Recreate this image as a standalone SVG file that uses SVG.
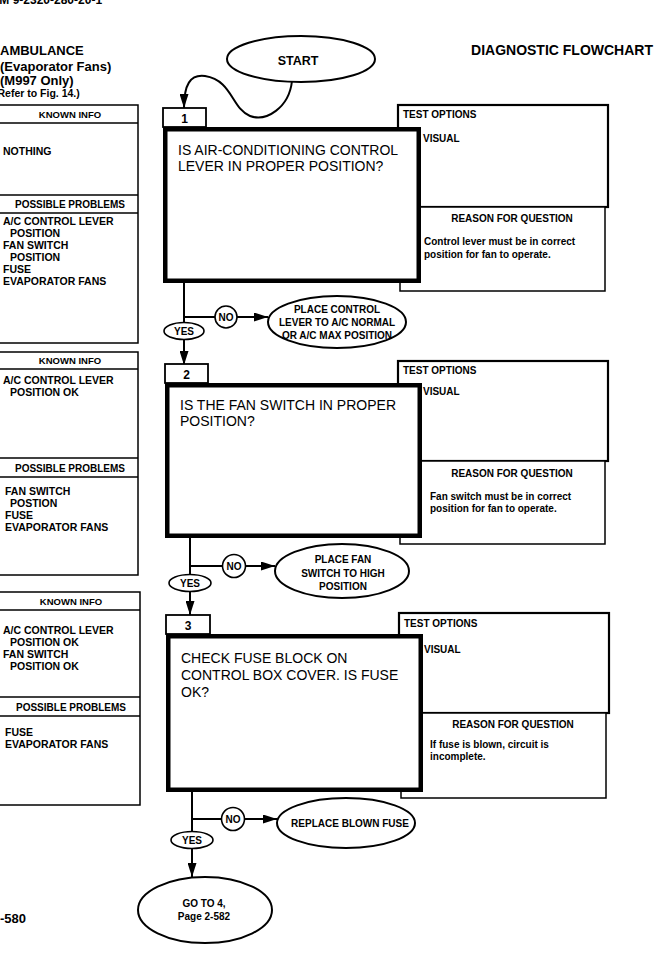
<svg xmlns="http://www.w3.org/2000/svg" width="660" height="974" viewBox="0 0 660 974">
<style>
text{font-family:"Liberation Sans",Arial,sans-serif;fill:#000}
.b{font-weight:bold}
.c{text-anchor:middle}
.hd{font-weight:bold;font-size:13px}
.hdr{font-weight:bold;font-size:9.5px;text-anchor:middle}
.pp{font-weight:bold;font-size:10px;text-anchor:middle}
.it{font-weight:bold;font-size:10.5px}
.q{font-size:14px}
.to{font-weight:bold;font-size:10px}
.rt{font-weight:bold;font-size:10px}
.el{font-weight:bold;font-size:10px;text-anchor:middle}
.frame{fill:#fff;stroke:#000;stroke-width:1.5}
.test{fill:#fff;stroke:#000;stroke-width:2.2}
.qbox{fill:#fff;stroke:#000;stroke-width:4.5}
.tab{fill:#fff;stroke:#000;stroke-width:1.8}
.oval{fill:#fff;stroke:#000;stroke-width:2}
.small{fill:#fff;stroke:#000;stroke-width:1.6}
.ln{fill:none;stroke:#000;stroke-width:2}
.rule{stroke:#000;stroke-width:1.5}
</style>
<defs>
<marker id="ah" viewBox="0 0 14 9" refX="14" refY="4.5" markerWidth="14" markerHeight="9" markerUnits="userSpaceOnUse" orient="auto"><path d="M0,0 L14,4.5 L0,9 z" fill="#000"/></marker>
</defs>

<g id="header">
<text x="-8" y="4" class="b" font-size="12">TM 9-2320-280-20-1</text>
<text x="0" y="55" class="hd">AMBULANCE</text>
<text x="0" y="71" class="hd">(Evaporator Fans)</text>
<text x="0" y="85" class="hd">(M997 Only)</text>
<text x="-6" y="97" class="b" font-size="10.5">(Refer to Fig. 14.)</text>
<text x="653" y="55" class="b" font-size="14" text-anchor="end">DIAGNOSTIC FLOWCHART</text>
<text x="0" y="923" class="b" font-size="13">-580</text>
</g>

<g id="info1">
<rect x="-2" y="105" width="140" height="238" class="frame"/>
<line x1="-2" y1="123" x2="138" y2="123" class="rule"/>
<line x1="-2" y1="195" x2="138" y2="195" class="rule"/>
<line x1="-2" y1="213" x2="138" y2="213" class="rule"/>
<text x="70" y="118" class="hdr">KNOWN INFO</text>
<text x="3" y="155" class="it">NOTHING</text>
<text x="70" y="208" class="pp">POSSIBLE PROBLEMS</text>
<text x="3" y="225" class="it">A/C CONTROL LEVER</text>
<text x="10" y="237" class="it">POSITION</text>
<text x="3" y="249" class="it">FAN SWITCH</text>
<text x="10" y="261" class="it">POSITION</text>
<text x="3" y="273" class="it">FUSE</text>
<text x="3" y="285" class="it">EVAPORATOR FANS</text>
</g>

<g id="info2">
<rect x="-2" y="352" width="140" height="223" class="frame"/>
<line x1="-2" y1="369" x2="138" y2="369" class="rule"/>
<line x1="-2" y1="458" x2="138" y2="458" class="rule"/>
<line x1="-2" y1="477" x2="138" y2="477" class="rule"/>
<text x="70" y="364" class="hdr">KNOWN INFO</text>
<text x="3" y="384" class="it">A/C CONTROL LEVER</text>
<text x="10" y="396" class="it">POSITION OK</text>
<text x="70" y="472" class="pp">POSSIBLE PROBLEMS</text>
<text x="5" y="495" class="it">FAN SWITCH</text>
<text x="10" y="507" class="it">POSTION</text>
<text x="5" y="519" class="it">FUSE</text>
<text x="5" y="531" class="it">EVAPORATOR FANS</text>
</g>

<g id="info3">
<rect x="-2" y="592" width="142" height="213" class="frame"/>
<line x1="-2" y1="610" x2="140" y2="610" class="rule"/>
<line x1="-2" y1="697" x2="140" y2="697" class="rule"/>
<line x1="-2" y1="716" x2="140" y2="716" class="rule"/>
<text x="71" y="605" class="hdr">KNOWN INFO</text>
<text x="3" y="634" class="it">A/C CONTROL LEVER</text>
<text x="10" y="646" class="it">POSITION OK</text>
<text x="3" y="658" class="it">FAN SWITCH</text>
<text x="10" y="670" class="it">POSITION OK</text>
<text x="71" y="711" class="pp">POSSIBLE PROBLEMS</text>
<text x="5" y="736" class="it">FUSE</text>
<text x="5" y="748" class="it">EVAPORATOR FANS</text>
</g>

<g id="connectors">
<path class="ln" d="M292 81 C289 108,266 122,250 116 C232 109,232 80,205 76 C190 74,184 85,184 108" marker-end="url(#ah)"/>
<line class="ln" x1="184" y1="283" x2="184" y2="365" marker-end="url(#ah)"/>
<line class="ln" x1="184" y1="317" x2="215" y2="317"/>
<line class="ln" x1="237" y1="317" x2="268" y2="317" marker-end="url(#ah)"/>
<line class="ln" x1="190" y1="538" x2="190" y2="615" marker-end="url(#ah)"/>
<line class="ln" x1="190" y1="566" x2="222" y2="566"/>
<line class="ln" x1="246" y1="566" x2="275" y2="566" marker-end="url(#ah)"/>
<line class="ln" x1="192" y1="792" x2="192" y2="877" marker-end="url(#ah)"/>
<line class="ln" x1="192" y1="819" x2="222" y2="819"/>
<line class="ln" x1="245" y1="819" x2="277" y2="819" marker-end="url(#ah)"/>
</g>

<g id="start">
<ellipse cx="301" cy="59" rx="74" ry="23" class="oval"/>
<text x="298" y="65" class="b c" font-size="12.5">START</text>
</g>

<g id="step1">
<rect x="398" y="105" width="210" height="102" class="test"/>
<rect x="400" y="207" width="205" height="84" class="frame"/>
<rect x="163" y="108" width="43" height="19" class="tab"/>
<text x="184.5" y="123" class="b c" font-size="12">1</text>
<rect x="165.25" y="129.25" width="253.5" height="151.5" class="qbox"/>
<text x="178" y="155" class="q">IS AIR-CONDITIONING CONTROL</text>
<text x="178" y="171" class="q">LEVER IN PROPER POSITION?</text>
<text x="403" y="118" class="to">TEST OPTIONS</text>
<text x="423" y="142" class="to">VISUAL</text>
<text x="512" y="222" class="to c">REASON FOR QUESTION</text>
<text x="424" y="245" class="rt">Control lever must be in correct</text>
<text x="424" y="258" class="rt">position for fan to operate.</text>
</g>
<g id="yes1"><ellipse cx="184" cy="331" rx="20" ry="8.5" class="small"/><text x="184" y="335" class="el">YES</text></g>
<g id="no1"><circle cx="226" cy="317" r="11" class="small"/><text x="226" y="321" class="el">NO</text></g>
<g id="fix1">
<ellipse cx="337" cy="322" rx="69" ry="26" class="oval"/>
<text x="337" y="313" class="el">PLACE CONTROL</text>
<text x="337" y="326" class="el">LEVER TO A/C NORMAL</text>
<text x="337" y="339" class="el">OR A/C MAX POSITION</text>
</g>

<g id="step2">
<rect x="398" y="361" width="210" height="100" class="test"/>
<rect x="400" y="461" width="205" height="83" class="frame"/>
<rect x="165" y="364" width="43" height="19" class="tab"/>
<text x="186.5" y="379" class="b c" font-size="12">2</text>
<rect x="167.25" y="385.25" width="252.5" height="150.5" class="qbox"/>
<text x="180" y="410" class="q">IS THE FAN SWITCH IN PROPER</text>
<text x="180" y="426" class="q">POSITION?</text>
<text x="403" y="374" class="to">TEST OPTIONS</text>
<text x="423" y="395" class="to">VISUAL</text>
<text x="512" y="477" class="to c">REASON FOR QUESTION</text>
<text x="430" y="500" class="rt">Fan switch must be in correct</text>
<text x="430" y="512" class="rt">position for fan to operate.</text>
</g>
<g id="yes2"><ellipse cx="190" cy="583" rx="21" ry="8.5" class="small"/><text x="190" y="587" class="el">YES</text></g>
<g id="no2"><circle cx="234" cy="566" r="11.5" class="small"/><text x="234" y="570" class="el">NO</text></g>
<g id="fix2">
<ellipse cx="342" cy="571" rx="67" ry="27" class="oval"/>
<text x="343" y="563" class="el">PLACE FAN</text>
<text x="343" y="577" class="el">SWITCH TO HIGH</text>
<text x="343" y="590" class="el">POSITION</text>
</g>

<g id="step3">
<rect x="399" y="613" width="210" height="100" class="test"/>
<rect x="401" y="713" width="205" height="85" class="frame"/>
<rect x="166" y="615" width="44" height="19" class="tab"/>
<text x="188" y="630" class="b c" font-size="12">3</text>
<rect x="168.25" y="636.25" width="252.5" height="153.5" class="qbox"/>
<text x="181" y="663" class="q">CHECK FUSE BLOCK ON</text>
<text x="181" y="680" class="q">CONTROL BOX COVER. IS FUSE</text>
<text x="181" y="697" class="q">OK?</text>
<text x="404" y="627" class="to">TEST OPTIONS</text>
<text x="424" y="653" class="to">VISUAL</text>
<text x="513" y="728" class="to c">REASON FOR QUESTION</text>
<text x="430" y="748" class="rt">If fuse is blown, circuit is</text>
<text x="430" y="760" class="rt">incomplete.</text>
</g>
<g id="yes3"><ellipse cx="192" cy="840" rx="21" ry="8.5" class="small"/><text x="192" y="844" class="el">YES</text></g>
<g id="no3"><circle cx="233" cy="819" r="11.5" class="small"/><text x="233" y="823" class="el">NO</text></g>
<g id="fix3">
<ellipse cx="346" cy="823" rx="69" ry="25" class="oval"/>
<text x="350" y="827" class="el" font-size="10.5">REPLACE BLOWN FUSE</text>
</g>
<g id="goto">
<ellipse cx="205" cy="910" rx="67" ry="33" class="oval"/>
<text x="204" y="907" class="el">GO TO 4,</text>
<text x="204" y="920" class="el">Page 2-582</text>
</g>
</svg>
